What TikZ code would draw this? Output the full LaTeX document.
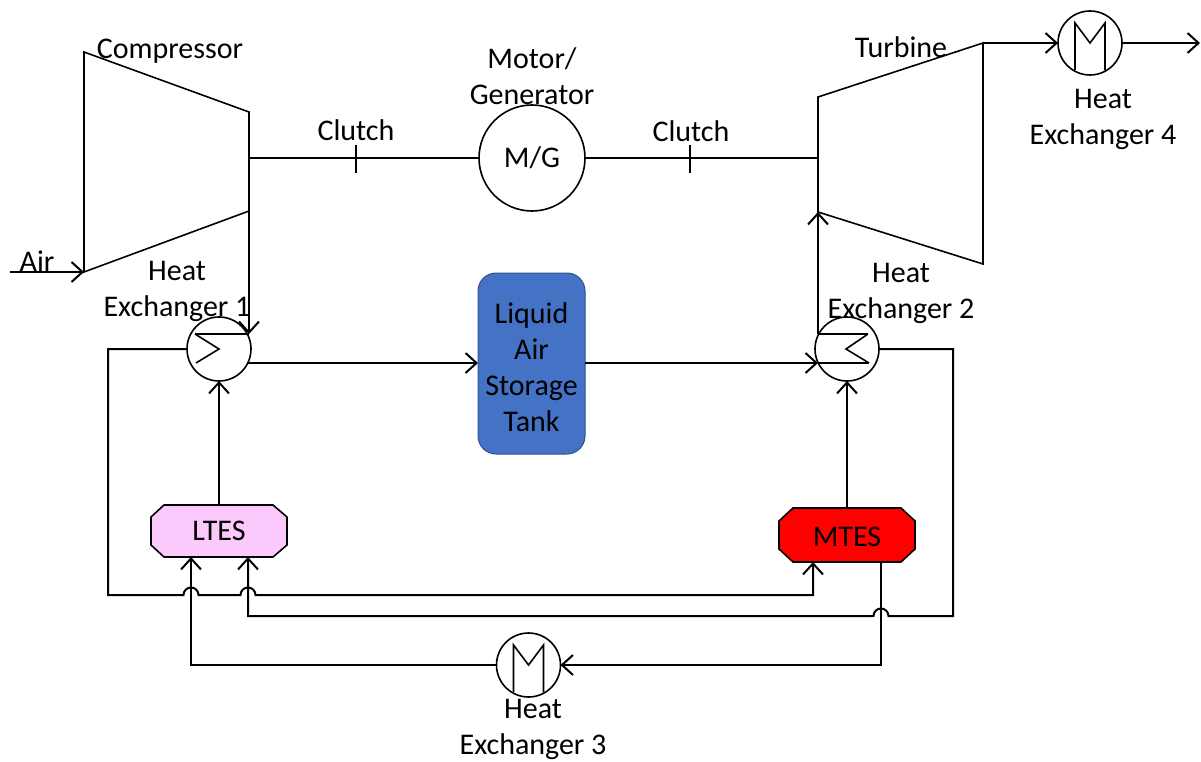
\documentclass[tikz,border=0pt]{standalone}
\usepackage{fontspec}
\setmainfont{Carlito}
\usetikzlibrary{arrows.meta}
\definecolor{ltespink}{HTML}{FBC9FB}
\definecolor{tankblue}{HTML}{4472C4}
\definecolor{tankedge}{HTML}{2F528F}
\tikzset{
	pipe/.style={line width=2pt,-{Straight Barb[length=11pt,width=20pt,line width=2pt]}},
	plain/.style={line width=2pt},
	outline/.style={line width=1.6pt},
	hxc/.style={draw,circle,line width=1.6pt,minimum size=64pt,inner sep=0pt,outer sep=0pt},
	tes/.style={minimum width=136pt,inner sep=0pt,outer sep=0pt},
	lbl/.style={align=center,inner sep=0pt,font=\fontsize{30}{36}\selectfont}
}
\begin{document}
\begin{tikzpicture}[x=1pt,y=-1pt]
			\useasboundingbox (0,0) rectangle (1201,762);
			% machines
			\draw [outline] (84,52) coordinate (compa) -- (249,112) coordinate (compb) -- (249,211) coordinate (compc) -- (84,272) coordinate (compd) -- cycle;
			\draw [outline] (818,97) coordinate (turba) -- (983,43) coordinate (turbb) -- (983,264) -- (818,212) coordinate (turbc) -- cycle;
			\coordinate (shaftl) at (249,158);
			\coordinate (shaftr) at (818,158);
			\node [draw,circle,outline,minimum size=106pt,inner sep=0pt,outer sep=0pt,lbl] (mg) at (532,158) {M/G};
			\node [draw=tankedge,fill=tankblue,rounded corners=18pt,line width=1pt,minimum width=107pt,minimum height=181pt,inner sep=0pt,outer sep=0pt] (tank) at (531.5,363.5) {};
			\node [hxc] (hxa) at (219,349) {};
			\node [hxc] (hxb) at (847,349) {};
			\node [hxc] (hxc) at (528.5,665) {};
			\node [hxc] (hxd) at (1090,43) {};
			% storage boxes
			\draw [outline,fill=ltespink] (164,505) -- (273,505) -- (287,517) -- (287,545) -- (273,557) -- (164,557) -- (151,545) -- (151,517) -- cycle;
			\draw [outline,fill=red] (793,508) -- (901,508) -- (915,521) -- (915,549) -- (901,562) -- (793,562) -- (779,549) -- (779,521) -- cycle;
			\node [tes,minimum height=52pt] (ltes) at (219,531) {};
			\node [tes,minimum height=54pt] (mtes) at (847,535) {};
			% exchanger insides
			\draw [outline] (195,334) -- (219,349) -- (196,363);
			\draw [plain] (195,334) -- (249,334);
			\draw [outline] (868,334) -- (846,349) -- (869,363);
			\draw [plain] (818,334) -- (868,334);
			\draw [plain] (818,363) -- (869,363);
			\draw [outline] (513.5,692) -- (513.5,645) -- (528.5,665) -- (543.5,645) -- (543.5,692);
			\draw [outline] (1075,70) -- (1075,23) -- (1090,43) -- (1105,23) -- (1105,70);
			% shaft and clutches
			\draw [plain] (shaftl) -- (mg.west);
			\draw [plain] (mg.east) -- (shaftr);
			\draw [plain] (356,145) -- (356,173);
			\draw [plain] (690,145) -- (690,173);
			% air side
			\coordinate (airin) at (10,272);
			\draw [pipe] (airin) -- (compd);
			\coordinate (hxain) at (249,334);
			\draw [pipe] (compc) -- (hxain);
			\coordinate (hxaout) at (247,363);
			\coordinate (tankin) at (tank.west |- hxaout);
			\draw [pipe] (hxaout) -- (tankin);
			\coordinate (tankout) at (tank.east |- hxaout);
			\coordinate (hxbin) at (818,363);
			\draw [pipe] (tankout) -- (hxbin);
			\coordinate (hxbout) at (818,334);
			\draw [pipe] (hxbout) -- (turbc);
			\draw [pipe] (turbb) -- (hxd.west);
			\coordinate (exhaust) at (1200,43);
			\draw [pipe] (hxd.east) -- (exhaust);
			% storage loops
			\draw [pipe] (ltes.north) -- (hxa.south);
			\draw [pipe] (mtes.north) -- (hxb.south);
			\draw [pipe] (hxa.west) -- (108,349) -- (108,595) -- (183.5,595) arc [start angle=180,end angle=0,radius=7.5pt] -- (240.5,595) arc [start angle=180,end angle=0,radius=7.5pt] -- (813,595) -- (813,562);
			\draw [pipe] (hxb.east) -- (953,349) -- (953,616) -- (888.5,616) arc [start angle=0,end angle=180,radius=7.5pt] -- (248,616) -- (248,557);
			\draw [pipe] (881,562) -- (881,665) -- (hxc.east);
			\draw [pipe] (hxc.west) -- (191,665) -- (191,557);
			% labels
			\node [lbl] (lblcomp) at (170,51) {Compressor};
			\node [lbl] (lblmotor) at (532,76.5) {Motor/\\Generator};
			\node [lbl] (lblclutcha) at (356,130) {Clutch};
			\node [lbl] (lblclutchb) at (691,131) {Clutch};
			\node [lbl] (lblturb) at (901,47) {Turbine};
			\node [lbl] (lblair) at (37,261) {Air};
			\node [lbl] (lblhxa) at (177,291) {Heat\\Exchanger 1};
			\node [lbl] (lblhxb) at (901,293) {Heat\\Exchanger 2};
			\node [lbl] (lblhxc) at (533,729.5) {Heat\\Exchanger 3};
			\node [lbl] (lblhxd) at (1103,119) {Heat\\Exchanger 4};
			\node [lbl] (lbltank) at (531.5,367.5) {Liquid\\Air\\Storage\\Tank};
			\node [lbl] (lbllt) at (219,531) {LTES};
			\node [lbl] (lblmt) at (847,537) {MTES};
\end{tikzpicture}
\end{document}
